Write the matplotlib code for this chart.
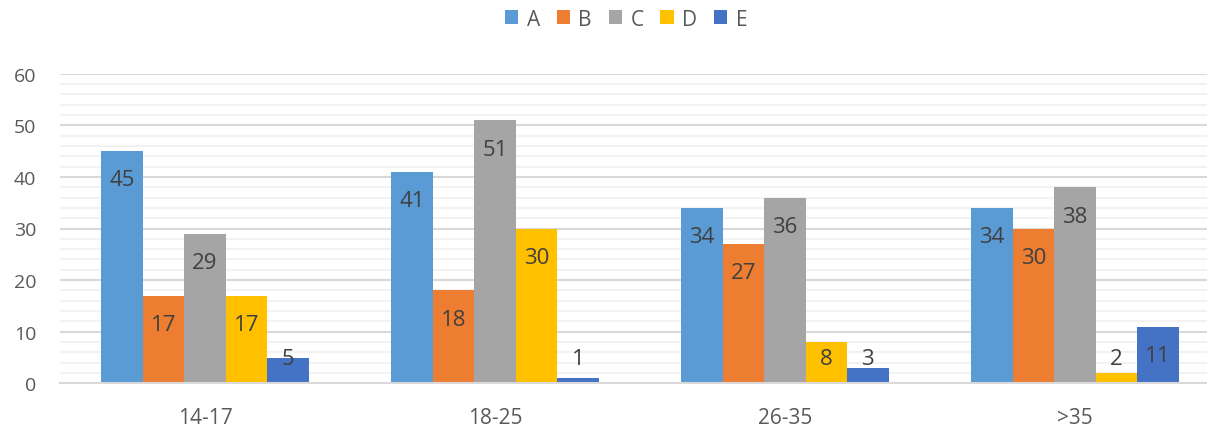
import matplotlib
matplotlib.use("Agg")
from matplotlib import pyplot as plt
from matplotlib.patches import Patch
import numpy as np

plt.rcParams['font.family'] = ['Open Sans', 'DejaVu Sans']

categories = ["14-17", "18-25", "26-35", ">35"]
series_names = ["A", "B", "C", "D", "E"]
values_a = [45, 41, 34, 34]
values_b = [17, 18, 27, 30]
values_c = [29, 51, 36, 38]
values_d = [17, 30, 8, 2]
values_e = [5, 1, 3, 11]
all_values = [values_a, values_b, values_c, values_d, values_e]
colors = ["#5B9BD5", "#ED7D31", "#A5A5A5", "#FFC000", "#4472C4"]

fig = plt.figure(figsize=(12.07, 4.27), dpi=100)
ax = fig.add_axes([60 / 1207, 42.7 / 427, 1160 / 1207, 309.6 / 427])

x = np.arange(len(categories))
w = 0.1428
for i, vals in enumerate(all_values):
    pos = x + (i - 2) * w
    ax.bar(pos, vals, width=w, color=colors[i], zorder=3, linewidth=0)
    for p, v in zip(pos, vals):
        # excel "inside end" labels, clamped near the axis for short bars
        y_lab = max(v - 5.6, 4.9)
        ax.text(p, y_lab, str(v), ha="center", va="center", fontsize=16,
                color="#404040", zorder=4)

ax.set_xlim(-0.5, 3.5)
ax.set_ylim(0, 60)
ax.set_yticks(range(0, 61, 10))
ax.set_yticks(range(0, 61, 2), minor=True)
ax.grid(axis="y", which="minor", color="#F2F2F2", linewidth=1.5, zorder=0)
ax.grid(axis="y", which="major", color="#D9D9D9", linewidth=1.5, zorder=1)
ax.set_xticks(x)
ax.set_xticklabels(categories)

for s in ["left", "right", "top"]:
    ax.spines[s].set_visible(False)
ax.spines["bottom"].set_color("#D9D9D9")
ax.spines["bottom"].set_linewidth(1.5)
ax.spines["bottom"].set_zorder(5)

ax.tick_params(axis="y", which="both", length=0, pad=17, labelsize=14, labelcolor="#595959")
ax.tick_params(axis="x", which="both", length=0, pad=17, labelsize=15, labelcolor="#595959")

handles = [Patch(facecolor=c, edgecolor="none") for c in colors]
fig.legend(handles, series_names, loc="center", bbox_to_anchor=(626 / 1207, 1 - 20 / 427),
           ncol=5, frameon=False, fontsize=15, labelcolor="#595959",
           handlelength=0.65, handleheight=0.65, handletextpad=0.4, columnspacing=0.8)

fig.savefig("out.png", dpi=100)
